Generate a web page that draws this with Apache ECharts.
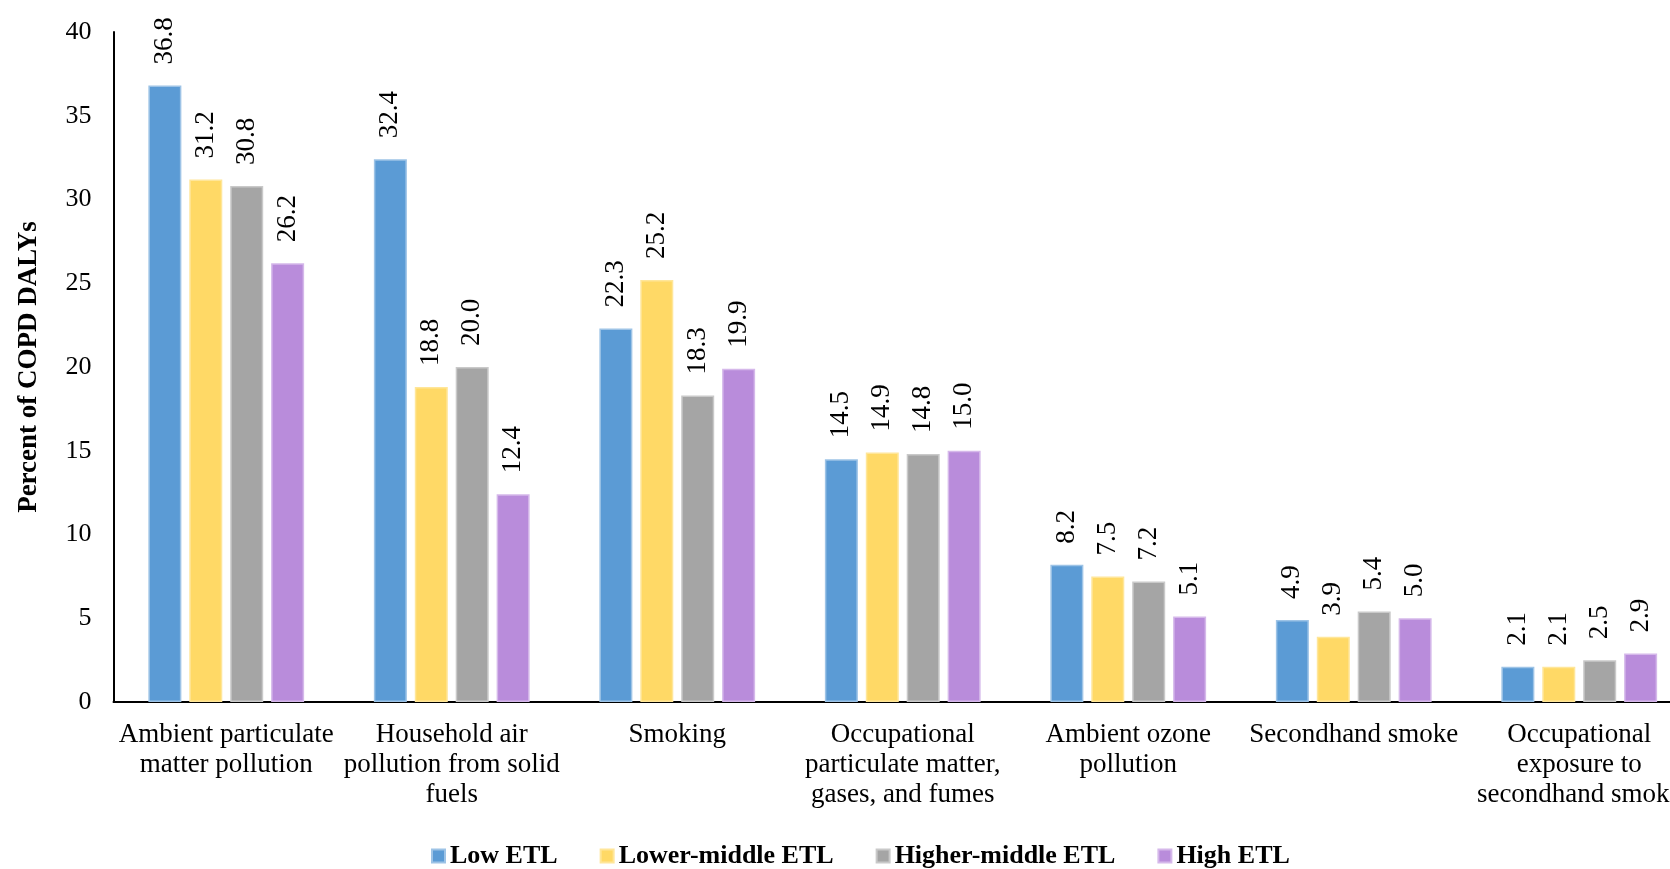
<!DOCTYPE html>
<html>
<head>
<meta charset="utf-8">
<title>COPD DALYs by risk factor</title>
<script src="https://cdn.jsdelivr.net/npm/echarts@6/dist/echarts.min.js"></script>
<style>
  html, body { margin: 0; padding: 0; background: #fff; overflow: hidden; }
  /* the original figure is cropped on the right, so the chart runs past the window */
  #chart { width: 1692px; height: 869px; }
</style>
</head>
<body>
<div id="chart"></div>
<script>
// categories along the x axis
const categories = [
  "Ambient particulate\nmatter pollution",
  "Household air\npollution from solid\nfuels",
  "Smoking",
  "Occupational\nparticulate matter,\ngases, and fumes",
  "Ambient ozone\npollution",
  "Secondhand smoke",
  "Occupational\nexposure to\nsecondhand smoke"
];

const seriesNames = ["Low ETL", "Lower-middle ETL", "Higher-middle ETL", "High ETL"];

// percent of COPD DALYs
const lowETL = [36.8, 32.4, 22.3, 14.5, 8.2, 4.9, 2.1];
const lowerMiddleETL = [31.2, 18.8, 25.2, 14.9, 7.5, 3.9, 2.1];
const higherMiddleETL = [30.8, 20.0, 18.3, 14.8, 7.2, 5.4, 2.5];
const highETL = [26.2, 12.4, 19.9, 15.0, 5.1, 5.0, 2.9];

const colors = ["#5B9BD5", "#FFD966", "#A5A5A5", "#B98CDB"];
const borders = ["#9DC3E6", "#FFE699", "#C9C9C9", "#D5B8EA"];

const font = '"Liberation Serif", "Times New Roman", serif';

const chart = echarts.init(document.getElementById("chart"));

function makeSeries(name, data, i) {
  return {
    name: name,
    type: "bar",
    data: data,
    barWidth: 33,
    barGap: "24%",
    itemStyle: {
      color: colors[i],
      borderColor: borders[i],
      borderWidth: 1.5
    },
    label: {
      show: true,
      position: "top",
      rotate: 90,
      align: "left",
      verticalAlign: "middle",
      distance: 21,
      fontFamily: font,
      fontSize: 27,
      color: "#000",
      formatter: (p) => p.value.toFixed(1)
    }
  };
}

chart.setOption({
  animation: false,
  textStyle: { fontFamily: font },
  legend: {
    data: seriesNames,
    left: 426,
    top: 838,
    icon: "rect",
    itemWidth: 13,
    itemHeight: 13,
    itemGap: 42,
    textStyle: {
      fontFamily: font,
      fontSize: 26,
      fontWeight: "bold",
      color: "#000"
    }
  },
  grid: {
    left: 113.5,
    top: 32,
    right: 0,
    height: 670,
    containLabel: false
  },
  xAxis: {
    type: "category",
    data: categories,
    axisLine: { lineStyle: { color: "#000", width: 2 } },
    axisTick: { show: false },
    axisLabel: {
      interval: 0,
      margin: 18,
      fontFamily: font,
      fontSize: 27,
      lineHeight: 30,
      color: "#000"
    }
  },
  yAxis: {
    type: "value",
    min: 0,
    max: 40,
    interval: 5,
    name: "Percent of COPD DALYs",
    nameLocation: "middle",
    nameGap: 71,
    nameTextStyle: {
      fontFamily: font,
      fontSize: 27,
      fontWeight: "bold",
      color: "#000"
    },
    axisLine: { show: true, lineStyle: { color: "#000", width: 2 } },
    axisTick: { show: false },
    splitLine: { show: false },
    axisLabel: {
      margin: 22,
      fontFamily: font,
      fontSize: 26,
      color: "#000"
    }
  },
  series: [
    makeSeries(seriesNames[0], lowETL, 0),
    makeSeries(seriesNames[1], lowerMiddleETL, 1),
    makeSeries(seriesNames[2], higherMiddleETL, 2),
    makeSeries(seriesNames[3], highETL, 3)
  ]
});
</script>
</body>
</html>
